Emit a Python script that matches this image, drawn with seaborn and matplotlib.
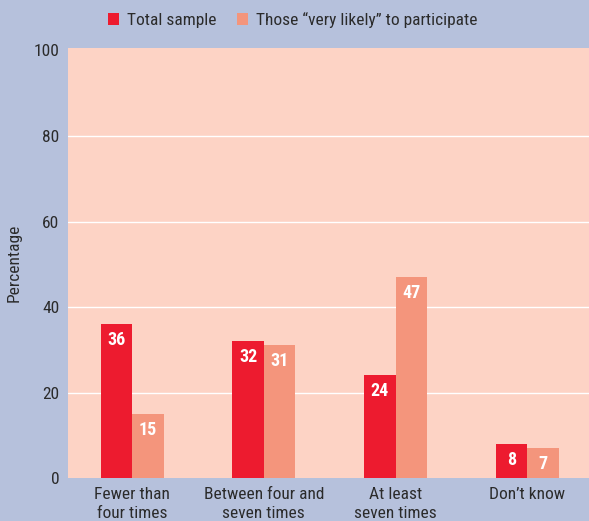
import matplotlib
matplotlib.use("Agg")
import matplotlib.pyplot as plt
import seaborn as sns
import pandas as pd
from matplotlib.patches import Patch

categories = ["Fewer than\nfour times", "Between four and\nseven times", "At least\nseven times", "Don\u2019t know"]
series_names = ["Total sample", "Those \u201cvery likely\u201d to participate"]
total_sample = [36, 32, 24, 8]
very_likely = [15, 31, 47, 7]
y_ticks = [0, 20, 40, 60, 80, 100]

colors = ["#ed1b2f", "#f4957c"]
bg = "#b6c1dc"
panel = "#fdd3c5"
txt = "#2b2b2b"

sns.set_theme(style="white")
FONT = ["Roboto Condensed", "DejaVu Sans"]
plt.rcParams["font.family"] = FONT

df = pd.DataFrame({
    "category": categories * 2,
    "series": [series_names[0]] * 4 + [series_names[1]] * 4,
    "value": total_sample + very_likely,
})

fig = plt.figure(figsize=(5.89, 5.21), dpi=100, facecolor=bg)
ax = fig.add_axes([0.115, 0.0825, 0.885, 0.8255])
ax.set_facecolor(panel)

sns.barplot(data=df, x="category", y="value", hue="series", order=categories,
            hue_order=series_names, palette=colors, saturation=1, width=0.48,
            ax=ax, legend=False, zorder=3, linewidth=0)

ax.set_xlim(-0.49, 3.47)
ax.set_ylim(0, 100.6)
ax.set_yticks(y_ticks)
ax.yaxis.grid(True, color="white", linewidth=1.0, zorder=1)
ax.set_axisbelow(True)
gl = ax.get_ygridlines()
gl[0].set_visible(False)
gl[-1].set_visible(False)
for s in ax.spines.values():
    s.set_visible(False)

ax.tick_params(axis="y", length=2, color="white", width=1, pad=4, labelsize=12.5, labelcolor=txt)
ax.tick_params(axis="x", length=0, pad=6.5, labelsize=12.5, labelcolor=txt)
for lab in ax.get_xticklabels():
    lab.set_linespacing(1.32)
ax.set_xlabel("")
ax.set_ylabel("Percentage", fontsize=12.5, color=txt)
ax.yaxis.set_label_coords(-0.088, 0.5)

for cont in ax.containers:
    for p in cont:
        h = p.get_height()
        ax.annotate(f"{h:.0f}", xy=(p.get_x() + p.get_width() / 2, h),
                    xytext=(0, -11.3), textcoords="offset points",
                    ha="center", va="center", color="white",
                    fontsize=13, fontweight="bold", zorder=5)

handles = [Patch(facecolor=c, edgecolor="none") for c in colors]
leg = fig.legend(handles, series_names, loc="center", bbox_to_anchor=(0.497, 0.962),
                 ncol=2, frameon=False, labelcolor=txt,
                 prop={"family": FONT, "size": 12.5},
                 handlelength=0.65, handleheight=0.7, handletextpad=0.45, columnspacing=1.2)

fig.savefig("out.png", dpi=100, facecolor=bg)
